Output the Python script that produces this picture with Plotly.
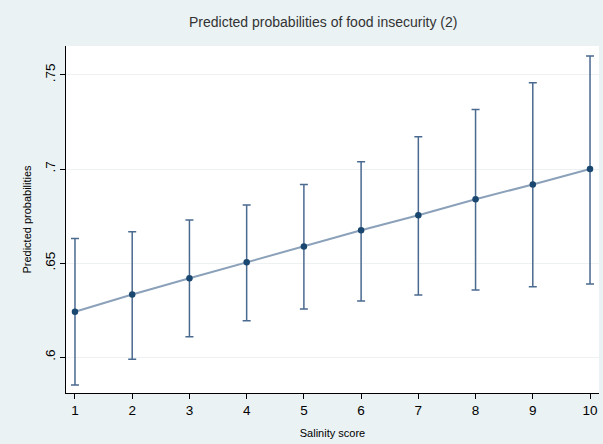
import plotly.graph_objects as go

salinity = [1, 2, 3, 4, 5, 6, 7, 8, 9, 10]
predicted = [0.6241, 0.6333, 0.6419, 0.6504, 0.6588, 0.6674, 0.6754, 0.6839, 0.6918, 0.7000]
upper_ci = [0.6630, 0.6667, 0.6729, 0.6809, 0.6918, 0.7039, 0.7172, 0.7316, 0.7459, 0.7601]
lower_ci = [0.5851, 0.5989, 0.6108, 0.6193, 0.6255, 0.6298, 0.6330, 0.6356, 0.6374, 0.6388]
y_tickvals = [0.6, 0.65, 0.7, 0.75]
y_ticktext = [".6", ".65", ".7", ".75"]
x_tickvals = [1, 2, 3, 4, 5, 6, 7, 8, 9, 10]

err_plus = [u - p for u, p in zip(upper_ci, predicted)]
err_minus = [p - l for p, l in zip(predicted, lower_ci)]

FONT = "Liberation Sans, Arial, sans-serif"

fig = go.Figure()
fig.add_trace(go.Scatter(
    x=salinity, y=predicted, mode="lines",
    line=dict(color="#8BA1BA", width=2),
    hoverinfo="skip", showlegend=False,
))
fig.add_trace(go.Scatter(
    x=salinity, y=predicted, mode="markers",
    marker=dict(color="#1A476F", size=6.5, symbol="circle"),
    error_y=dict(type="data", symmetric=False, array=err_plus, arrayminus=err_minus,
                 color="#4A6A8F", thickness=1.5, width=4),
    showlegend=False,
))

fig.update_layout(
    width=603, height=444,
    margin=dict(l=66, r=4, t=46, b=51),
    paper_bgcolor="#EAF2F3",
    plot_bgcolor="#FFFFFF",
    font=dict(family=FONT, color="#000000"),
    showlegend=False,
    annotations=[dict(
        text="Predicted probabilities of food insecurity (2)",
        xref="paper", yref="paper", x=0.482, y=1, yshift=24,
        xanchor="center", yanchor="middle", showarrow=False,
        font=dict(size=14, color="#333333", family=FONT),
    )],
)
fig.update_xaxes(
    range=[0.843, 10.157], tickvals=x_tickvals,
    showgrid=False, zeroline=False,
    showline=True, linecolor="#000000", linewidth=1,
    ticks="outside", ticklen=5, tickcolor="#000000",
    tickfont=dict(size=13.5, family=FONT),
    title=dict(text="Salinity score", font=dict(size=11, family=FONT), standoff=12),
)
fig.update_yaxes(
    range=[0.5809, 0.7654], tickvals=y_tickvals, ticktext=y_ticktext,
    tickangle=-90,
    showgrid=True, gridcolor="#EEF1F1", gridwidth=1, zeroline=False,
    showline=True, linecolor="#000000", linewidth=1,
    ticks="outside", ticklen=5, tickcolor="#000000",
    tickfont=dict(size=13.5, family=FONT),
    title=dict(text="Predicted probabilities", font=dict(size=11, family=FONT), standoff=8),
)

fig.write_html(
    "out.html",
    config={"displayModeBar": False},
    post_script="document.body.style.margin='0';document.body.style.padding='0';",
)
